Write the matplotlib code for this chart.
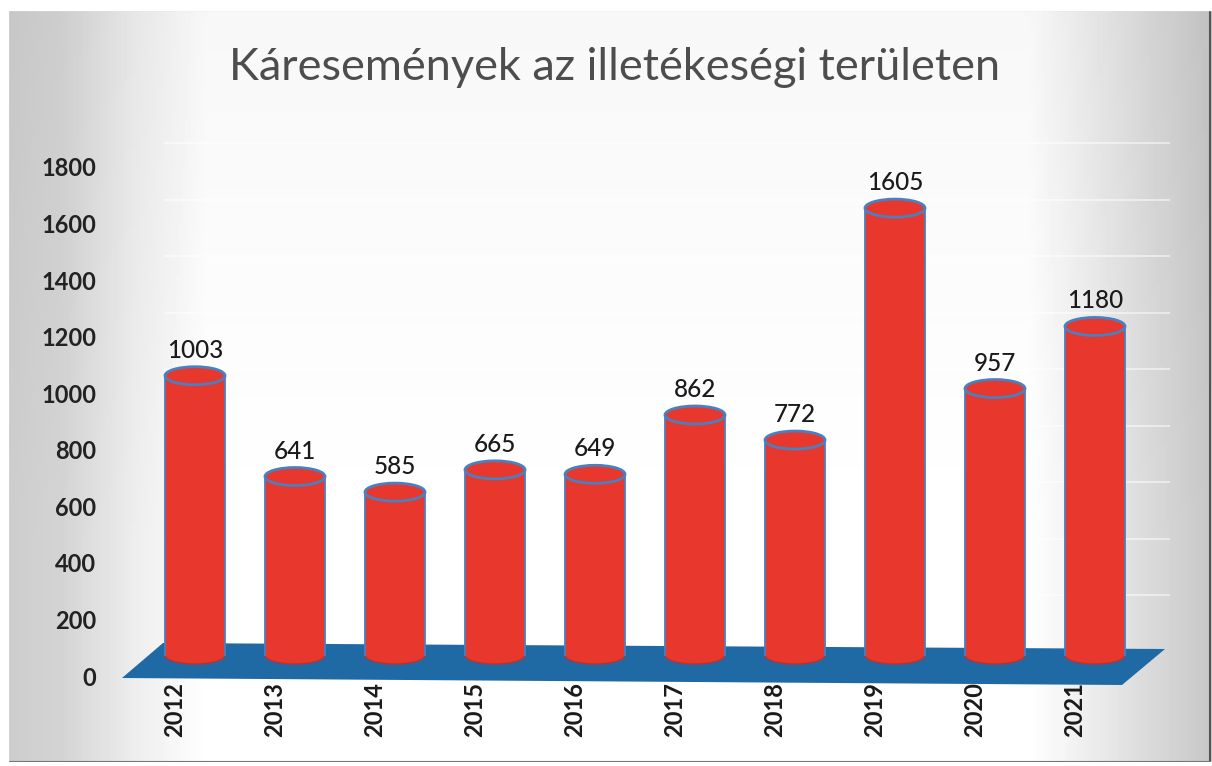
import matplotlib.pyplot as plt
from matplotlib.patches import Rectangle, Ellipse, Polygon
import numpy as np

years = ['2012', '2013', '2014', '2015', '2016', '2017', '2018', '2019', '2020', '2021']
values = [1003, 641, 585, 665, 649, 862, 772, 1605, 957, 1180]
yticks = [0, 200, 400, 600, 800, 1000, 1200, 1400, 1600, 1800]
title = 'Káresemények az illetékeségi területen'

RED = '#e8382e'
BLUE = '#4a7fc0'
FLOOR = '#1f6aa5'
FONT = ['Lato', 'DejaVu Sans']

W, H = 1212, 766
fig = plt.figure(figsize=(W / 100, H / 100), dpi=100)

# background gradient
bg = fig.add_axes([0, 0, 1, 1])
xs = np.linspace(0, 1, 400)
ys = np.linspace(0, 1, 200)
gx = np.interp(xs, [0, 0.05, 0.11, 0.17, 0.85, 0.92, 1.0], [0.8, 0.83, 0.93, 1.0, 1.0, 0.9, 0.78])
gy = np.interp(ys, [0, 0.3, 1.0], [1.0, 1.0, 0.97])
img = np.clip(gx[None, :] * gy[:, None], 0, 1)
bg.imshow(img, cmap='gray', vmin=0, vmax=1, aspect='auto', extent=[0, W, 0, H], origin='lower')
bg.add_patch(Rectangle((8, 4), W - 10, H - 14, fill=False, edgecolor='#555555', lw=1.5))
bg.fill_between([0, W], 0, 4, color='white')
bg.fill_between([0, W], H - 10, H, color='white')
bg.fill_between([0, 8], 0, H, color='white')
bg.set_xlim(0, W)
bg.set_ylim(0, H)
bg.axis('off')

# axes region in pixels (from top)
x0, x1, ytop, ybot = 120, 1170, 140, 700
rect = [x0 / W, (H - ybot) / H, (x1 - x0) / W, (ybot - ytop) / H]

# tick axis (front scale)
ax = fig.add_axes(rect)
s_tick = (676 - 167) / 1800.0
ax.set_ylim(-(ybot - 676) / s_tick, (676 - ytop) / s_tick)
ax.set_xlim(-0.75, 9.75)
ax.patch.set_alpha(0)
for sp in ax.spines.values():
    sp.set_visible(False)
ax.set_yticks(yticks)
ax.set_yticklabels([str(t) for t in yticks], fontsize=17, fontweight='bold',
                   color='#222222', family=FONT)
ax.tick_params(axis='y', length=0, pad=17)
ax.set_xticks([])
for t in yticks[1:]:
    ax.plot([-0.3, 9.75], [t + 85, t + 85], color='white', lw=1.2, alpha=0.6, zorder=0)

# bar axis (cylinders, perspective scale)
bx = fig.add_axes(rect)
s_bar = (492 - 208) / (1605 - 585)
zero_px = 655
bx.set_ylim(-(ybot - zero_px) / s_bar, (zero_px - ytop) / s_bar)
bx.set_xlim(-0.75, 9.75)
bx.axis('off')

def px2d(px, py):
    return ((px - x0) / 100.0 - 0.75, (zero_px - py) / s_bar)

floor = Polygon([px2d(122, 678), px2d(163, 643), px2d(1165, 649), px2d(1122, 685)],
                closed=True, facecolor=FLOOR, edgecolor='none', zorder=1)
bx.add_patch(floor)

w = 0.6
eh = 18 / s_bar
for i, v in enumerate(values):
    bx.add_patch(Ellipse((i, 0), w, eh, facecolor=RED, edgecolor='#c0302a', lw=1, zorder=2))
    bx.add_patch(Rectangle((i - w / 2, 0), w, v, facecolor=RED, edgecolor='none', zorder=3))
    bx.plot([i - w / 2, i - w / 2], [0, v], color=BLUE, lw=1.3, zorder=4)
    bx.plot([i + w / 2, i + w / 2], [0, v], color=BLUE, lw=1.3, zorder=4)
    bx.add_patch(Ellipse((i, v), w, eh, facecolor=RED, edgecolor=BLUE, lw=2, zorder=5))
    bx.text(i, v + eh / 2 + 5 / s_bar, str(v), ha='center', va='bottom',
            fontsize=17.5, fontweight='medium', color='#1a1a1a', family=FONT, zorder=6)
    bx.text(i - 0.2, -(682 - zero_px) / s_bar, years[i], rotation=90, ha='center', va='top',
            fontsize=17, fontweight='bold', color='#1a1a1a', family=FONT, zorder=6)

fig.text(615 / W, 1 - 68 / H, title, ha='center', va='center', fontsize=32.5,
         color='#4d4d4d', family=FONT)

fig.savefig('out.png', dpi=100)
